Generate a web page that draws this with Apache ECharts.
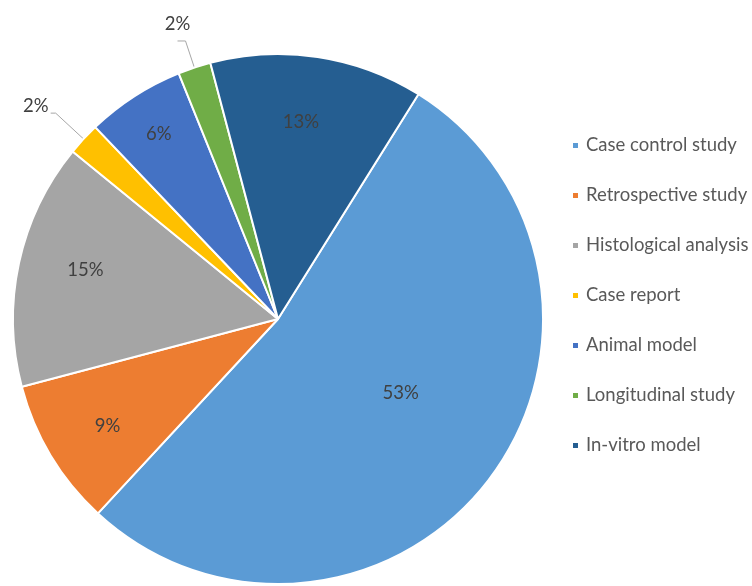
<!DOCTYPE html>
<html>
<head>
<meta charset="utf-8">
<script src="https://cdn.jsdelivr.net/npm/echarts@6/dist/echarts.min.js"></script>
<style>
  html, body { margin: 0; padding: 0; background: #fff; }
  #chart { width: 752px; height: 586px; }
</style>
</head>
<body>
<div id="chart"></div>
<script>
// Study types and their share of the included studies (%)
const categories = ['Case control study', 'Retrospective study', 'Histological analysis',
  'Case report', 'Animal model', 'Longitudinal study', 'In-vitro model'];
const shares = [53, 9, 15, 2, 6, 2, 13];
const colors = ['#5B9BD5', '#ED7D31', '#A5A5A5', '#FFC000', '#4472C4', '#70AD47', '#255E91'];

// thin slices get an outside label with a bent leader line
const outsideLabel = [false, false, false, true, false, true, false];
// inside labels: distance from centre (fraction of radius) and angular nudge (deg)
const labelRadius = [0.54, 0.76, 0.75, 1, 0.83, 1, 0.75];
const labelNudge = [6.4, 1.2, -2, 0, 0, 0, 2];
// outside labels: radial and horizontal leader lengths (px)
const leaderRadial = [0, 0, 0, 38, 0, 28, 0];
const leaderFlat = [0, 0, 0, 5, 0, 8, 0];

const CX = 278, CY = 319, R = 265;
const START = 58; // degrees, counter-clockwise from 3 o'clock

const total = shares.reduce((a, b) => a + b, 0);
const midAngles = [];
let acc = 0;
shares.forEach(v => {
  midAngles.push(START - (acc + v / 2) / total * 360);
  acc += v;
});

const chart = echarts.init(document.getElementById('chart'), null, { renderer: 'canvas' });
const font = 'Lato, "Open Sans", sans-serif';
const FS = 18.5;

chart.setOption({
  animation: false,
  color: colors,
  legend: {
    orient: 'vertical',
    left: 566,
    top: 131,
    itemGap: 31,
    itemWidth: 7,
    itemHeight: 7,
    icon: 'rect',
    textStyle: { color: '#595959', fontSize: FS, fontFamily: font, padding: [0, 0, 0, 2] },
    data: categories
  },
  series: [{
    type: 'pie',
    center: [CX, CY],
    radius: [0, R],
    startAngle: START,
    clockwise: true,
    avoidLabelOverlap: false,
    itemStyle: { borderColor: '#fff', borderWidth: 2 },
    label: {
      color: '#404040',
      fontSize: FS,
      fontFamily: font,
      formatter: '{c}%'
    },
    labelLine: { lineStyle: { color: '#A6A6A6', width: 1 } },
    labelLayout: function (p) {
      const i = p.dataIndex;
      if (outsideLabel[i]) {
        const a = midAngles[i] * Math.PI / 180;
        const ux = Math.cos(a), uy = -Math.sin(a);
        const p0 = [CX + R * ux, CY + R * uy];
        const p1 = [p0[0] + leaderRadial[i] * ux, p0[1] + leaderRadial[i] * uy];
        const p2 = [p1[0] - leaderFlat[i], p1[1]];
        if (i === 5) {
          return { x: p2[0], y: p2[1] - 7, align: 'center', verticalAlign: 'bottom', labelLinePoints: [p0, p1, p2] };
        }
        return { x: p2[0] - 2, y: p2[1] - 7, align: 'right', verticalAlign: 'middle', labelLinePoints: [p0, p1, p2] };
      }
      const a = (midAngles[i] + labelNudge[i]) * Math.PI / 180;
      const rr = labelRadius[i] * R;
      return { x: CX + rr * Math.cos(a), y: CY - rr * Math.sin(a), align: 'center', verticalAlign: 'middle' };
    },
    data: categories.map((name, i) => ({
      name: name,
      value: shares[i],
      label: outsideLabel[i]
        ? { position: 'outside', distanceToLabelLine: 3 }
        : { position: 'inside' },
      labelLine: outsideLabel[i]
        ? { show: true, length: 22, length2: 8 }
        : { show: false }
    }))
  }]
});
</script>
</body>
</html>
